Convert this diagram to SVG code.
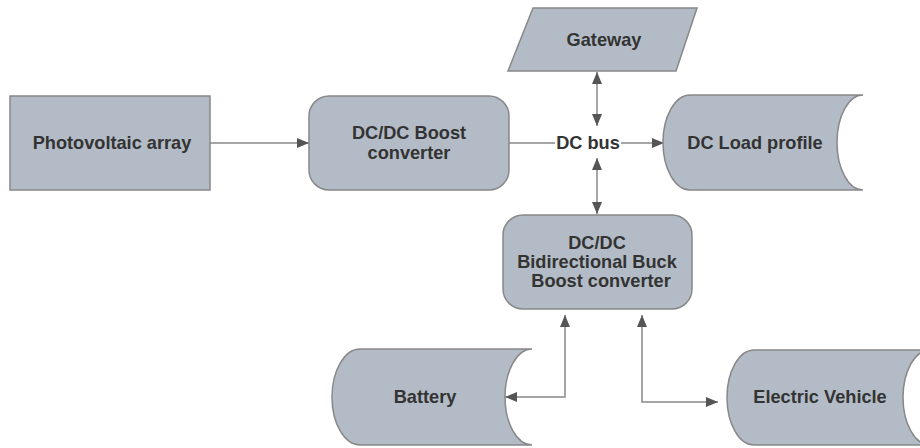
<svg xmlns="http://www.w3.org/2000/svg" width="920" height="448" viewBox="0 0 920 448">
<defs>
<style>
.n{fill:#b3bcc6;stroke:#888;stroke-width:1.5}
.t{font-family:"Liberation Sans",Arial,sans-serif;font-weight:bold;font-size:18.2px;fill:#333;text-anchor:middle}
.c{fill:none;stroke:#888;stroke-width:1.5}
</style>
<marker id="ah" viewBox="0 0 12 10" refX="12" refY="5" markerWidth="12" markerHeight="10" markerUnits="userSpaceOnUse" orient="auto-start-reverse">
<path d="M0,0 L12,5 L0,10 Z" fill="#555"/>
</marker>
</defs>
<rect width="920" height="448" fill="#fff"/>
<g id="connectors">
<line class="c" x1="210" y1="143" x2="309" y2="143" marker-end="url(#ah)"/>
<line class="c" x1="509" y1="143" x2="555" y2="143"/>
<line class="c" x1="621" y1="143" x2="664" y2="143" marker-end="url(#ah)"/>
<line class="c" x1="597" y1="72" x2="597" y2="126" marker-start="url(#ah)" marker-end="url(#ah)"/>
<line class="c" x1="597" y1="158" x2="597" y2="214" marker-start="url(#ah)" marker-end="url(#ah)"/>
<polyline class="c" points="565,315 565,397 505,397" marker-start="url(#ah)" marker-end="url(#ah)"/>
<polyline class="c" points="642,315 642,402 718,402" marker-start="url(#ah)" marker-end="url(#ah)"/>
</g>
<g id="pv">
<rect class="n" x="10" y="96" width="200" height="94"/>
<text class="t" x="112" y="149">Photovoltaic array</text>
</g>
<g id="boost">
<rect class="n" x="309" y="96" width="200" height="94" rx="20"/>
<text class="t" x="409" y="139">DC/DC Boost</text>
<text class="t" x="409" y="159">converter</text>
</g>
<g id="dcbus">
<text class="t" x="588" y="149">DC bus</text>
</g>
<g id="gateway">
<path class="n" d="M533,8 L697,8 L676,71 L508,71 Z"/>
<text class="t" x="604" y="46">Gateway</text>
</g>
<g id="load">
<path class="n" d="M690,95 L863,95 A26,47.5 0 0,0 863,190 L690,190 A27,47.5 0 0,1 690,95 Z"/>
<text class="t" x="755" y="149">DC Load profile</text>
</g>
<g id="bidir">
<rect class="n" x="503" y="215" width="189" height="94" rx="20"/>
<text class="t" x="597" y="249">DC/DC</text>
<text class="t" x="597" y="268">Bidirectional Buck</text>
<text class="t" x="601" y="287">Boost converter</text>
</g>
<g id="battery">
<path class="n" d="M360,349 L532,349 A27,48 0 0,0 532,445 L360,445 A28,48 0 0,1 360,349 Z"/>
<text class="t" x="425" y="403">Battery</text>
</g>
<g id="ev">
<path class="n" d="M754,350 L930,350 A27,47.5 0 0,0 930,445 L754,445 A27,47.5 0 0,1 754,350 Z"/>
<text class="t" x="820" y="403">Electric Vehicle</text>
</g>
</svg>
